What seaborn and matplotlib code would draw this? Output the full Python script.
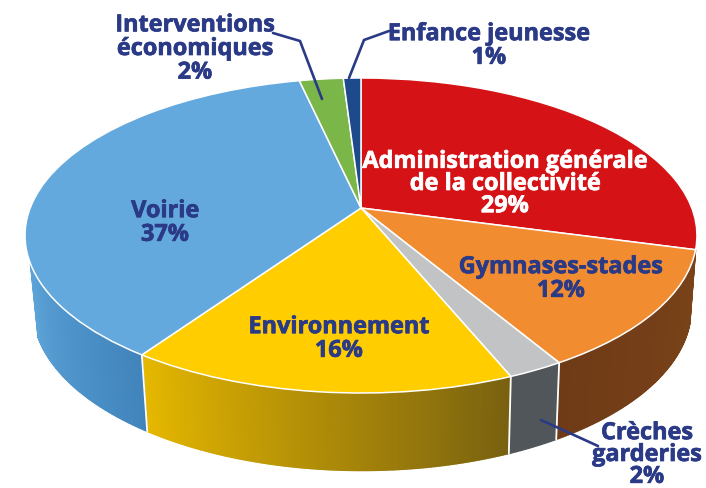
import numpy as np
import matplotlib
matplotlib.use("Agg")
import matplotlib.pyplot as plt
import matplotlib.patheffects as pe
import seaborn as sns
from matplotlib.transforms import Transform
from matplotlib.colors import to_rgb

# ---- data ----
categories = ["Administration générale\nde la collectivité", "Gymnases-stades", "Crèches\ngarderies",
              "Environnement", "Voirie", "Interventions\néconomiques", "Enfance jeunesse"]
shown_pct = [29, 12, 2, 16, 37, 2, 1]
values = [29.2, 12.3, 2.3, 15.8, 36.9, 2.5, 1.0]
top_colors = ["#d51317", "#f28c30", "#c1c3c4", "#ffcd00", "#63a9de", "#7ab648", "#1d4a8a"]
wall_start = {1: "#7a4419", 2: "#50565a", 3: "#786010", 4: "#4084bb"}
wall_end = {1: "#6f3b17", 2: "#50565a", 3: "#e6b800", 4: "#5ca3d8"}

NAVY = "#2b3a86"
sns.set_theme(style="white")
plt.rcParams["font.family"] = ["Open Sans", "DejaVu Sans"]

# perspective of the tilted disc, in picture pixels
CX, CY, K, A, C = 361.0, 208.0, 330.8, 152.7, 0.1746


class Tilt(Transform):
    input_dims = output_dims = 2
    is_separable = False
    has_inverse = False

    def transform_non_affine(self, xy):
        xy = np.asarray(xy, float)
        w = 1 + C * xy[:, 1]
        return np.column_stack((CX + K * xy[:, 0] / w, CY - A * xy[:, 1] / w))


tilt = Tilt()


def rim(theta):
    """top and bottom rim points for clockwise-from-top angle theta (radians)"""
    u, v = np.sin(theta), np.cos(theta)
    w = 1 + C * v
    X, Y = K * u / w, A * v / w
    return (CX + X, CY - Y), (CX + 1 + 0.98 * X, CY - (1.03 * Y - 72))


fig = plt.figure(figsize=(7.06, 4.88), dpi=100)
ax = fig.add_axes([0, 0, 1, 1])
wedges, _ = ax.pie(values, colors=top_colors, startangle=90, counterclock=False,
                   wedgeprops=dict(edgecolor="white", linewidth=1.1))
for w in wedges:
    w.set_transform(tilt + ax.transData)
    w.set_clip_on(False)
    w.set_zorder(5)
ax.set_aspect("auto")
ax.set_xlim(0, 706)
ax.set_ylim(488, 0)
ax.axis("off")

# side walls, built from the same values
edges = np.cumsum([0] + values) / sum(values) * 2 * np.pi
wall_stop = np.radians(250)
for i in (1, 2, 3, 4):
    t0, t1 = edges[i], min(edges[i + 1], wall_stop)
    ts = np.linspace(t0, t1, max(int((t1 - t0) * 180), 2) + 1)
    c0, c1 = np.array(to_rgb(wall_start[i])), np.array(to_rgb(wall_end[i]))
    for a, b in zip(ts[:-1], ts[1:]):
        f = (0.5 * (a + b) - t0) / (t1 - t0)
        (ax_, ay_), (bx_, by_) = rim(a)
        (cx_, cy_), (dx_, dy_) = rim(b)
        ax.fill([ax_, cx_, dx_, bx_], [ay_, cy_, dy_, by_], color=c0 * (1 - f) + c1 * f, lw=1.0, zorder=2)

# white joins between the walls
for i in (2, 3, 4):
    p, q = rim(edges[i])
    ax.plot([p[0], q[0]], [p[1], q[1]], color="white", lw=1.3, zorder=3)

# leader lines
for xs, ys in (([273, 300, 322], [33, 41, 99]),
               ([389, 364, 349], [31, 40, 78]),
               ([541, 598], [420, 446])):
    ax.plot(xs, ys, color=NAVY, lw=1.9, zorder=8, solid_joinstyle="miter")

# labels
FS = 16.9


def lab(x, y, i, color=NAVY, spacing=0.98):
    t = ax.text(x, y, f"{categories[i]}\n{shown_pct[i]}%", color=color, fontsize=FS, fontweight="bold",
                ha="center", va="center", linespacing=spacing, zorder=9)
    t.set_path_effects([pe.withStroke(linewidth=0.5, foreground=color)])


lab(505, 184, 0, "white", 0.9)
lab(561, 279, 1)
lab(647, 455, 2, spacing=0.88)
lab(339, 339, 3)
lab(165, 223, 4)
lab(195, 49, 5)
lab(489, 46, 6)

fig.savefig("out.png", dpi=100)
